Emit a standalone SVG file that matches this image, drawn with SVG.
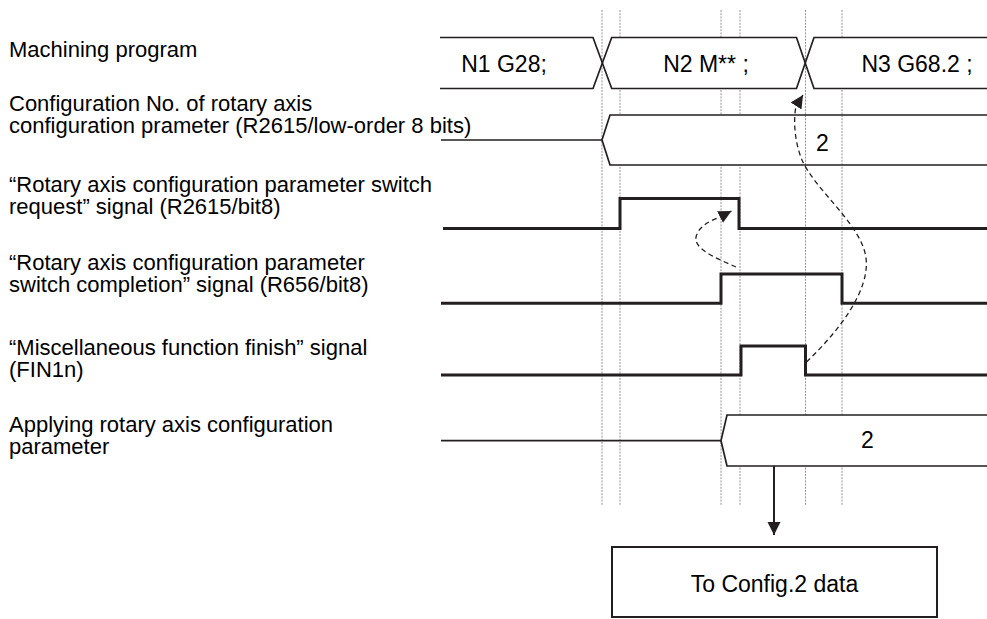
<svg xmlns="http://www.w3.org/2000/svg" width="987" height="619" viewBox="0 0 987 619">
<style>
text{font-family:"Liberation Sans",Arial,sans-serif;fill:#000}
.lbl{font-size:22px}
.val{font-size:23px;text-anchor:middle}
.fillw{fill:#fff;stroke:none}
.bus{fill:none;stroke:#231f20;stroke-width:1.7;stroke-linejoin:miter}
.sig{fill:none;stroke:#231f20;stroke-width:3;stroke-linejoin:miter}
.grid{stroke:#888;stroke-width:0.9;stroke-dasharray:2 1.2;fill:none}
.dash{fill:none;stroke:#231f20;stroke-width:1.3;stroke-dasharray:5 3.5}
.solid{fill:none;stroke:#231f20;stroke-width:2}
</style>
<defs>
<marker id="ah" markerUnits="userSpaceOnUse" markerWidth="14" markerHeight="14" refX="13" refY="7" orient="auto" viewBox="0 0 14 14">
<path d="M0,0.5 L13,7 L0,13.5 z" fill="#231f20"/>
</marker>
</defs>
<rect x="0" y="0" width="987" height="619" fill="#fff"/>

<g id="grid">
<line class="grid" x1="602" y1="10" x2="602" y2="505"/>
<line class="grid" x1="620" y1="10" x2="620" y2="505"/>
<line class="grid" x1="721" y1="10" x2="721" y2="505"/>
<line class="grid" x1="740" y1="10" x2="740" y2="505"/>
<line class="grid" x1="805.5" y1="10" x2="805.5" y2="505"/>
<line class="grid" x1="842" y1="10" x2="842" y2="505"/>
</g>

<g id="labels">
<text class="lbl" x="9" y="56.5">Machining program</text>
<text class="lbl" x="9" y="111">Configuration No. of rotary axis</text>
<text class="lbl" x="9" y="133">configuration prameter (R2615/low-order 8 bits)</text>
<text class="lbl" x="9" y="192">“Rotary axis configuration parameter switch</text>
<text class="lbl" x="9" y="214">request” signal (R2615/bit8)</text>
<text class="lbl" x="9" y="270">“Rotary axis configuration parameter</text>
<text class="lbl" x="9" y="292">switch completion” signal (R656/bit8)</text>
<text class="lbl" x="9" y="355">“Miscellaneous function finish” signal</text>
<text class="lbl" x="9" y="377">(FIN1n)</text>
<text class="lbl" x="9" y="432">Applying rotary axis configuration</text>
<text class="lbl" x="9" y="454">parameter</text>
</g>

<g id="machining-program">
<polygon class="fillw" points="440,37.5 593,37.5 602.3,63 593,88.5 440,88.5"/>
<polygon class="fillw" points="611.7,37.5 796.5,37.5 805.3,63 796.5,88.5 611.7,88.5 602.3,63"/>
<polygon class="fillw" points="814,37.5 987,37.5 987,88.5 814,88.5 805.3,63"/>
<path class="bus" d="M440,37.5 H593 L611.7,88.5 H796.5 L814,37.5 H987"/>
<path class="bus" d="M440,88.5 H593 L611.7,37.5 H796.5 L814,88.5 H987"/>
<text class="val" x="504" y="71.5">N1 G28;</text>
<text class="val" x="706" y="71.5">N2 M** ;</text>
<text class="val" x="917" y="71.5">N3 G68.2 ;</text>
</g>

<g id="config-no">
<polygon class="fillw" points="602,140 610,115 987,115 987,165 610,165"/>
<line class="grid" x1="805.5" y1="115" x2="805.5" y2="165"/>
<line class="grid" x1="842" y1="115" x2="842" y2="165"/>
<path class="bus" d="M441,140 H602 L610,115 H987"/>
<path class="bus" d="M602,140 L610,165 H987"/>
<text class="val" x="822.5" y="151">2</text>
</g>

<g id="switch-request">
<path class="sig" d="M443,228.5 H620 V198.5 H739 V228.5 H987"/>
</g>

<g id="switch-completion">
<path class="sig" d="M441,303.3 H721 V274 H842 V303.3 H987"/>
</g>

<g id="fin-signal">
<path class="sig" d="M441,375 H741 V346 H805.5 V375 H987"/>
</g>

<g id="applying-param">
<polygon class="fillw" points="721,440.7 727,415 987,415 987,466 727,466"/>
<path class="bus" d="M441,440.7 H721 L727,415 H987"/>
<path class="bus" d="M721,440.7 L727,466 H987"/>
<text class="val" x="867.5" y="447.5">2</text>
</g>

<g id="config2-box">
<rect x="612" y="547" width="325" height="70" fill="#fff" stroke="#231f20" stroke-width="2"/>
<text class="val" x="774.5" y="591.5">To Config.2 data</text>
</g>

<g id="connectors">
<path class="dash" d="M736,267 C716,258 690,248 697,234 C701,225 710,221 719,217.5 L731.5,211" marker-end="url(#ah)"/>
<path class="dash" d="M806.5,362 C840,330 870,290 866,258 C862,225 815,190 802,160 C795,143 793,122 796,106 L803,95" marker-end="url(#ah)"/>
<path class="solid" d="M774,466 V535" marker-end="url(#ah)"/>
</g>
</svg>
